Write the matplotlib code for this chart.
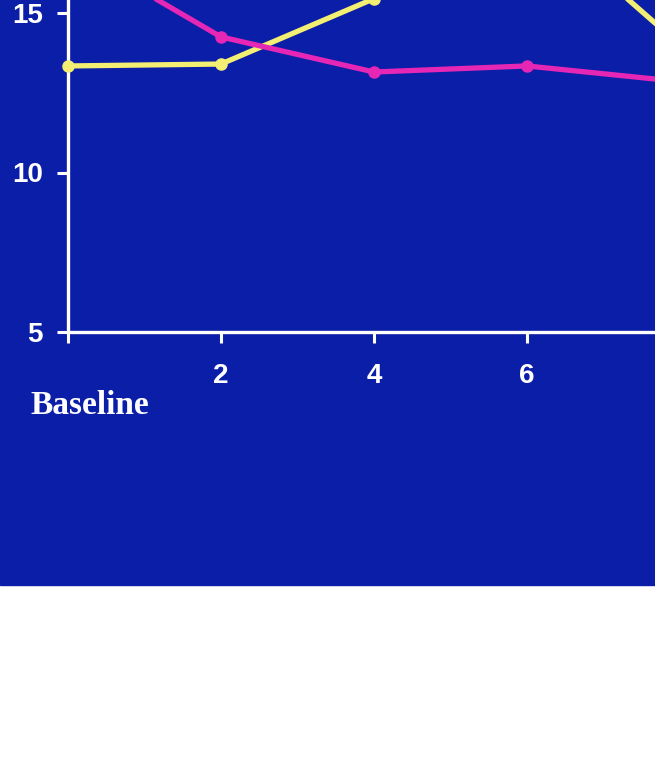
import matplotlib.pyplot as plt
from matplotlib.patches import Rectangle

# time points and the two series
weeks = [0, 2, 4, 6, 8]
yellow_vals = [13.34, 13.4, 15.45, 18.2, 14.0]
magenta_vals = [17.05, 14.25, 13.15, 13.34, 12.85]
x_ticks = [0, 2, 4, 6]
x_labels = ["", "2", "4", "6"]
y_ticks = [5, 10, 15]

bg = "#0b1ea8"
W, H = 655, 768

fig = plt.figure(figsize=(W / 100, H / 100), dpi=100)
fig.patch.set_facecolor("white")

# blue slide area, white strip at the bottom
fig.patches.append(Rectangle((0, (H - 585) / H), 1, 585 / H,
                             transform=fig.transFigure, color=bg, zorder=-5))

ax = fig.add_axes([68 / W, (H - 332) / H, (W - 68) / W, 332 / H])
ax.set_facecolor("none")
ax.set_xlim(0, (W - 68) / 76.5)
ax.set_ylim(5, 5 + 332 / 31.9)

ax.plot(weeks, yellow_vals, color="#f2ef72", lw=3.8, marker="o", ms=8,
        solid_capstyle="round", zorder=3, clip_on=False)
ax.plot(weeks, magenta_vals, color="#e626b4", lw=3.8, marker="o", ms=8,
        solid_capstyle="round", zorder=4, clip_on=False)

for s in ["top", "right"]:
    ax.spines[s].set_visible(False)
for s in ["left", "bottom"]:
    ax.spines[s].set_color("white")
    ax.spines[s].set_linewidth(2.4)
    ax.spines[s].set_capstyle("projecting")

ax.set_xticks(x_ticks)
ax.set_xticklabels(x_labels)
ax.set_yticks(y_ticks)
ax.tick_params(colors="white", width=2.2, length=8, direction="out")
ax.tick_params(axis="x", pad=14)
ax.tick_params(axis="y", pad=10)
for lab in ax.get_xticklabels() + ax.get_yticklabels():
    lab.set_fontsize(20)
    lab.set_fontweight("heavy")
    lab.set_fontfamily("Liberation Sans")
    lab.set_color("white")

fig.text(30 / W, 1 - 406 / H, "Baseline", color="white", fontsize=24,
         fontweight="bold", family="Liberation Serif", va="center", ha="left")

fig.savefig("out.png", dpi=100, facecolor=fig.get_facecolor())
